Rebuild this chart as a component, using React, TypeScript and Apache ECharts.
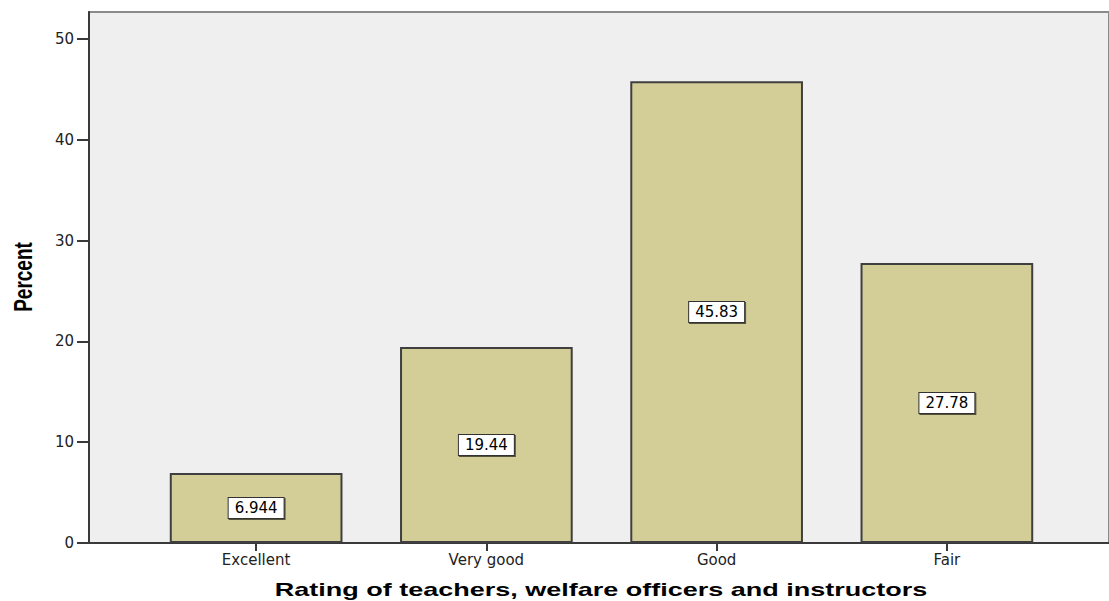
import React, { useEffect, useRef } from 'react';
import * as echarts from 'echarts';

const categories = ['Excellent', 'Very good', 'Good', 'Fair'];
const percents = [6.944, 19.44, 45.83, 27.78];
const percentLabels = ['6.944', '19.44', '45.83', '27.78'];
const yTicks = [0, 10, 20, 30, 40, 50];
const yMax = 52.7;
const yTitle = 'Percent';
const xTitle = 'Rating of teachers, welfare officers and instructors';

export default function App() {
  const ref = useRef<HTMLDivElement>(null);
  useEffect(() => {
    if (!ref.current) return;
    const chart = echarts.init(ref.current, undefined, { renderer: 'svg' });
    const font = '"DejaVu Sans", Verdana, sans-serif';
    const titleFont = '"Liberation Sans", Arial, sans-serif';
    chart.setOption({
      animation: false,
      backgroundColor: '#ffffff',
      textStyle: { fontFamily: font },
      grid: [
        {
          left: 89, right: -3, top: 12, bottom: 58,
          show: true, backgroundColor: '#efefef', borderColor: '#8a8a8a', borderWidth: 2,
        },
        { left: 141, right: 47, top: 12, bottom: 58 },
      ],
      xAxis: [
        {
          type: 'category', gridIndex: 0, data: categories,
          axisLine: { show: true, lineStyle: { color: '#3a3a3a', width: 2 } },
          axisTick: { show: false }, axisLabel: { show: false }, splitLine: { show: false },
        },
        {
          type: 'category', gridIndex: 1, data: categories,
          axisLine: { show: false },
          axisTick: { show: true, alignWithLabel: true, length: 8, lineStyle: { color: '#3a3a3a', width: 2 } },
          axisLabel: { color: '#222', fontSize: 15, margin: 9, fontFamily: font },
          splitLine: { show: false },
        },
      ],
      yAxis: [
        {
          type: 'value', gridIndex: 0, min: 0, max: yMax,
          axisLine: { show: true, lineStyle: { color: '#3a3a3a', width: 2 } },
          axisTick: { show: true, length: 12, lineStyle: { color: '#3a3a3a', width: 2 }, customValues: yTicks },
          axisLabel: {
            color: '#222', fontSize: 15, margin: 15, fontFamily: font, customValues: yTicks,
            formatter: (v: number) => (yTicks.includes(v) ? String(v) : ''),
          },
          splitLine: { show: false },
        },
        {
          type: 'value', gridIndex: 1, min: 0, max: yMax, show: false,
          splitLine: { show: false },
        },
      ],
      graphic: [
        {
          type: 'text', x: 601, y: 590, scaleX: 1.5,
          style: { text: xTitle, font: `bold 18px ${titleFont}`, fill: '#000', align: 'center', verticalAlign: 'middle' },
        },
        {
          type: 'text', x: 23, y: 277, rotation: Math.PI / 2, scaleY: 1.4,
          style: { text: yTitle, font: `bold 19px ${titleFont}`, fill: '#000', align: 'center', verticalAlign: 'middle' },
        },
      ],
      series: [
        {
          type: 'bar', xAxisIndex: 1, yAxisIndex: 1, data: percents,
          barCategoryGap: '25%',
          itemStyle: { color: '#d3ce97', borderColor: '#3f3f3f', borderWidth: 2 },
          label: {
            show: true, position: 'inside',
            formatter: (p: any) => percentLabels[p.dataIndex],
            color: '#000', fontSize: 15, fontFamily: font,
            backgroundColor: '#ffffff', borderColor: '#333', borderWidth: 1,
            padding: [3, 6, 2, 6],
            shadowColor: 'rgba(0,0,0,0.6)', shadowOffsetX: 1, shadowOffsetY: 1, shadowBlur: 0,
          },
        },
      ],
    });
    return () => chart.dispose();
  }, []);
  return <div ref={ref} style={{ position: 'fixed', left: 0, top: 0, width: 1109, height: 601 }} />;
}
